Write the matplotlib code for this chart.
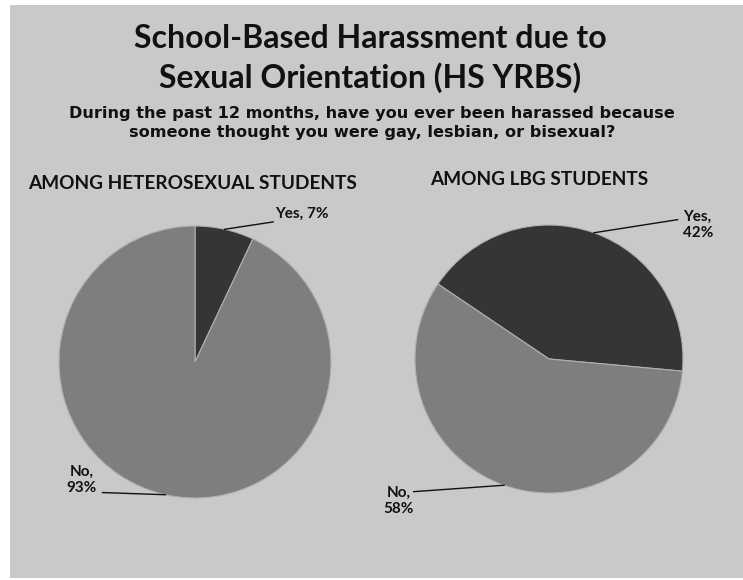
import numpy as np
import matplotlib
matplotlib.use('Agg')
import matplotlib.pyplot as plt
from matplotlib.patches import Rectangle

title_lines = ['School-Based Harassment due to', 'Sexual Orientation (HS YRBS)']
subtitle_lines = ['During the past 12 months, have you ever been harassed because',
                  'someone thought you were gay, lesbian, or bisexual?']
groups = ['AMONG HETEROSEXUAL STUDENTS', 'AMONG LBG STUDENTS']
answers = ['Yes', 'No']
hetero_pct = [7, 93]
lbg_pct = [42, 58]

W, H = 743, 580
fig = plt.figure(figsize=(W/100, H/100), dpi=100)
fig.patch.set_facecolor('white')
fig.patches.append(Rectangle((10/W, 2/H), (W-10)/W, (H-7)/H, transform=fig.transFigure,
                             facecolor='#c9c9c9', edgecolor='none', zorder=-10))

for line, yb in zip(title_lines, [48, 88]):
  fig.text(370/W, 1-yb/H, line, ha='center', va='baseline', fontsize=23, fontweight='bold',
           family='Lato', color='#111111')
for line, yb in zip(subtitle_lines, [118, 137]):
  fig.text(372/W, 1-yb/H, line, ha='center', va='baseline', fontsize=11.6, fontweight='bold',
           family='DejaVu Sans', color='#111111')
fig.text(193/W, 1-189/H, groups[0], ha='center', va='baseline', fontsize=13.7, fontweight='bold',
         family='Lato', color='#111111')
fig.text(539/W, 1-185/H, groups[1], ha='center', va='baseline', fontsize=13.7, fontweight='bold',
         family='Lato', color='#111111')

colors = ['#353535', '#7e7e7e']

def draw_pie(cx, cy, r, vals, start, lab_pos, lab_ha, line_end):
  ax = fig.add_axes([(cx-r)/W, 1-(cy+r)/H, 2*r/W, 2*r/H])
  wedges, _ = ax.pie(vals, colors=colors, startangle=start, counterclock=False,
                     wedgeprops=dict(edgecolor='#b0b0b0', linewidth=0.8))
  ax.set_xlim(-1, 1)
  ax.set_ylim(-1, 1)
  ax.set_aspect('equal')
  ax.axis('off')
  for w, v, a, pos, ha, le in zip(wedges, vals, answers, lab_pos, lab_ha, line_end):
    mid = np.deg2rad((w.theta1 + w.theta2) / 2)
    ex, ey = np.cos(mid), np.sin(mid)
    ax.plot([ex, le[0]], [ey, le[1]], color='#111111', lw=1.0, clip_on=False)
    ax.text(pos[0], pos[1], '{},{}{}%'.format(a, pos[2], v), ha=ha, va='center',
            fontsize=11, fontweight='bold', family='Lato', color='#111111',
            multialignment='center', linespacing=1.2)
  return ax

draw_pie(195, 362, 136, hetero_pct, 90,
         [(0.59, 1.09, ' '), (-0.72, -0.87, '\n')], ['left', 'right'],
         [(0.575, 1.03), (-0.68, -0.96)])
draw_pie(549, 359, 134, lbg_pct, 146,
         [(1.11, 1.00, '\n'), (-1.12, -1.06, '\n')], ['center', 'center'],
         [(0.96, 1.04), (-1.01, -0.99)])

fig.savefig('out.png', dpi=100, facecolor=fig.get_facecolor())
